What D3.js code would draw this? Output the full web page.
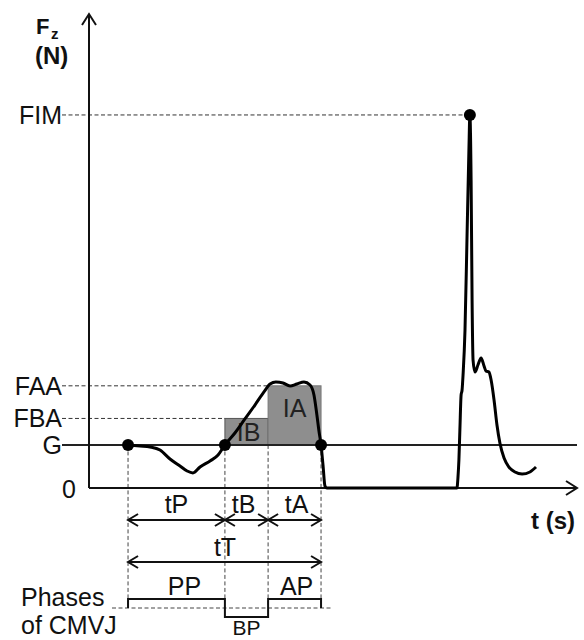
<!DOCTYPE html>
<html><head><meta charset="utf-8">
<script src="https://cdn.jsdelivr.net/npm/d3@7/dist/d3.min.js"></script>
<style>
body{margin:0;background:#fff;}
text{font-family:"Liberation Sans",Arial,sans-serif;fill:#111;}
</style></head>
<body>
<svg id="chart" width="584" height="640"></svg>
<script>
// ---- data ----
const curveTime = [0.160,0.209,0.250,0.291,0.332,0.373,0.402,0.426,0.455,0.496,0.529,0.557,0.598,0.639,0.680,0.717,0.742,0.766,0.795,0.824,0.852,0.881,0.906,0.922,0.934,0.943,0.951,0.959,0.967,0.975,1.508,1.512,1.516,1.520,1.525,1.529,1.533,1.541,1.549,1.557,1.561,1.566,1.570,1.574,1.582,1.594,1.607,1.619,1.627,1.639,1.648,1.660,1.672,1.684,1.701,1.721,1.746,1.775,1.807,1.832];
const curveForce = [700,682,666,617,471,357,276,244,341,439,536,700,893,1121,1348,1560,1689,1722,1706,1657,1689,1722,1673,1511,1186,910,700,374,32,0,0,162,455,942,1511,1592,1836,2567,4029,5490,6060,5003,3054,2079,1884,1998,2112,1982,1901,1884,1754,1430,1023,731,487,341,260,227,260,341];
const levelLabels = ["FIM","FAA","FBA","G","0"];
const levelValues = [6060,1660,1130,700,0];
const eventTimes = [0.160,0.557,0.734,0.951];   // start, braking start, acceleration start, take-off
const peakTime = 1.561;
const impulseLabels = ["IB","IA"];
const durationLabels = ["tP","tB","tA"];
const totalLabel = "tT";
const phaseLabels = ["PP","BP","AP"];

const svg = d3.select("#chart");
const x = d3.scaleLinear().domain([0,2.0]).range([89,577]);
const y = d3.scaleLinear().domain([0,7700]).range([488,14]);
const lv = Object.fromEntries(levelLabels.map((l,i)=>[l,levelValues[i]]));
const [t0,t1,t2,t3] = eventTimes;

// impulse rectangles
svg.append("rect").attr("x",x(t1)).attr("y",y(lv.FBA)).attr("width",x(t2)-x(t1)).attr("height",y(lv.G)-y(lv.FBA))
  .attr("fill","#8e8e8e").attr("stroke","#555").attr("stroke-width",1);
svg.append("rect").attr("x",x(t2)).attr("y",y(lv.FAA)).attr("width",x(t3)-x(t2)).attr("height",y(lv.G)-y(lv.FAA))
  .attr("fill","#8e8e8e").attr("stroke","#777").attr("stroke-width",1);
svg.append("text").attr("x",(x(t1)+x(t2))/2+2).attr("y",y(lv.G)-4).attr("text-anchor","middle").attr("font-size",25).style("fill","#222").text(impulseLabels[0]);
svg.append("text").attr("x",(x(t2)+x(t3))/2).attr("y",(y(lv.FAA)+y(lv.G))/2+2).attr("text-anchor","middle").attr("font-size",25).style("fill","#222").text(impulseLabels[1]);

// dashed level lines
const dash = "4,2.5";
const dashEnds = {FIM:x(peakTime), FAA:x(t2), FBA:x(t1)};
["FIM","FAA","FBA"].forEach(k=>{
  svg.append("line").attr("x1",62).attr("x2",dashEnds[k]).attr("y1",y(lv[k])).attr("y2",y(lv[k]))
    .attr("stroke","#333").attr("stroke-width",1).attr("stroke-dasharray",dash);
});
// vertical dashed lines
const phaseBase = 608, phaseTop = 599, phaseBottom = 617;
eventTimes.forEach((t,i)=>{
  svg.append("line").attr("x1",x(t)).attr("x2",x(t)).attr("y1",y(lv.G)).attr("y2",i===1?phaseTop:phaseBase)
    .attr("stroke","#444").attr("stroke-width",1).attr("stroke-dasharray",dash);
});
// phase dashed baseline
svg.append("line").attr("x1",112).attr("x2",333).attr("y1",phaseBase).attr("y2",phaseBase)
  .attr("stroke","#444").attr("stroke-width",1).attr("stroke-dasharray",dash);

// G line
svg.append("line").attr("x1",62).attr("x2",x(2.0)).attr("y1",y(lv.G)).attr("y2",y(lv.G)).attr("stroke","#222").attr("stroke-width",2);

// axes
svg.append("line").attr("x1",x(0)).attr("x2",x(0)).attr("y1",y(0)).attr("y2",y(7700)).attr("stroke","#111").attr("stroke-width",2);
svg.append("line").attr("x1",x(0)).attr("x2",x(2.0)).attr("y1",y(0)).attr("y2",y(0)).attr("stroke","#111").attr("stroke-width",2);
svg.append("path").attr("d",`M${x(0)-7},${y(7700)+11}L${x(0)},${y(7700)}L${x(0)+7},${y(7700)+11}`).attr("fill","none").attr("stroke","#111").attr("stroke-width",2);
svg.append("path").attr("d",`M${x(2.0)-11},${y(0)-7}L${x(2.0)},${y(0)}L${x(2.0)-11},${y(0)+7}`).attr("fill","none").attr("stroke","#111").attr("stroke-width",2);

// force curve
const pts = curveTime.map((t,i)=>[t,curveForce[i]]);
svg.append("path").datum(pts).attr("d",d3.line().x(d=>x(d[0])).y(d=>y(d[1])).curve(d3.curveMonotoneX))
  .attr("fill","none").attr("stroke","#000").attr("stroke-width",3).attr("stroke-linejoin","round");

// dots
[[t0,lv.G],[t1,lv.G],[t3,lv.G],[peakTime,lv.FIM]].forEach(d=>{
  svg.append("circle").attr("cx",x(d[0])).attr("cy",y(d[1])).attr("r",6).attr("fill","#000");
});

// level labels
levelLabels.forEach((l,i)=>{
  svg.append("text").attr("x",l==="0"?76:62).attr("y",y(levelValues[i])+(l==="0"?10:9)).attr("text-anchor","end").attr("font-size",25).text(l);
});

// axis titles
svg.append("text").attr("x",36).attr("y",34).attr("font-size",22).attr("font-weight","bold").text("F");
svg.append("text").attr("x",51).attr("y",39).attr("font-size",15).attr("font-weight","bold").text("z");
svg.append("text").attr("x",35).attr("y",64).attr("font-size",24).attr("font-weight","bold").text("(N)");
svg.append("text").attr("x",531).attr("y",529).attr("font-size",24).attr("font-weight","bold").text("t (s)");

// duration arrows
function dblArrow(xa,xb,yy){
  svg.append("line").attr("x1",xa).attr("x2",xb).attr("y1",yy).attr("y2",yy).attr("stroke","#111").attr("stroke-width",2);
  svg.append("path").attr("d",`M${xa+10},${yy-6}L${xa},${yy}L${xa+10},${yy+6}M${xb-10},${yy-6}L${xb},${yy}L${xb-10},${yy+6}`)
    .attr("fill","none").attr("stroke","#111").attr("stroke-width",2);
}
const seg = [[t0,t1],[t1,t2],[t2,t3]];
seg.forEach((s,i)=>{
  dblArrow(x(s[0]),x(s[1]),520);
  svg.append("text").attr("x",(x(s[0])+x(s[1]))/2+(i===1?-3:i===2?2:0)).attr("y",513).attr("text-anchor","middle").attr("font-size",25).text(durationLabels[i]);
});
dblArrow(x(t0),x(t3),562);
svg.append("text").attr("x",225).attr("y",556).attr("text-anchor","middle").attr("font-size",25).text(totalLabel);

// phases step
svg.append("path").attr("d",`M${x(t0)},${phaseBase}V${phaseTop}H${x(t1)}V${phaseBottom}H${x(t2)}V${phaseTop}H${x(t3)}V${phaseBase}`)
  .attr("fill","none").attr("stroke","#111").attr("stroke-width",2);
svg.append("text").attr("x",(x(t0)+x(t1))/2+8).attr("y",595).attr("text-anchor","middle").attr("font-size",25).text(phaseLabels[0]);
svg.append("text").attr("x",(x(t1)+x(t2))/2).attr("y",635).attr("text-anchor","middle").attr("font-size",21).text(phaseLabels[1]);
svg.append("text").attr("x",(x(t2)+x(t3))/2+2).attr("y",595).attr("text-anchor","middle").attr("font-size",25).text(phaseLabels[2]);
svg.append("text").attr("x",21).attr("y",606).attr("font-size",25).text("Phases");
svg.append("text").attr("x",21).attr("y",634).attr("font-size",25).text("of CMVJ");
</script>
</body></html>
